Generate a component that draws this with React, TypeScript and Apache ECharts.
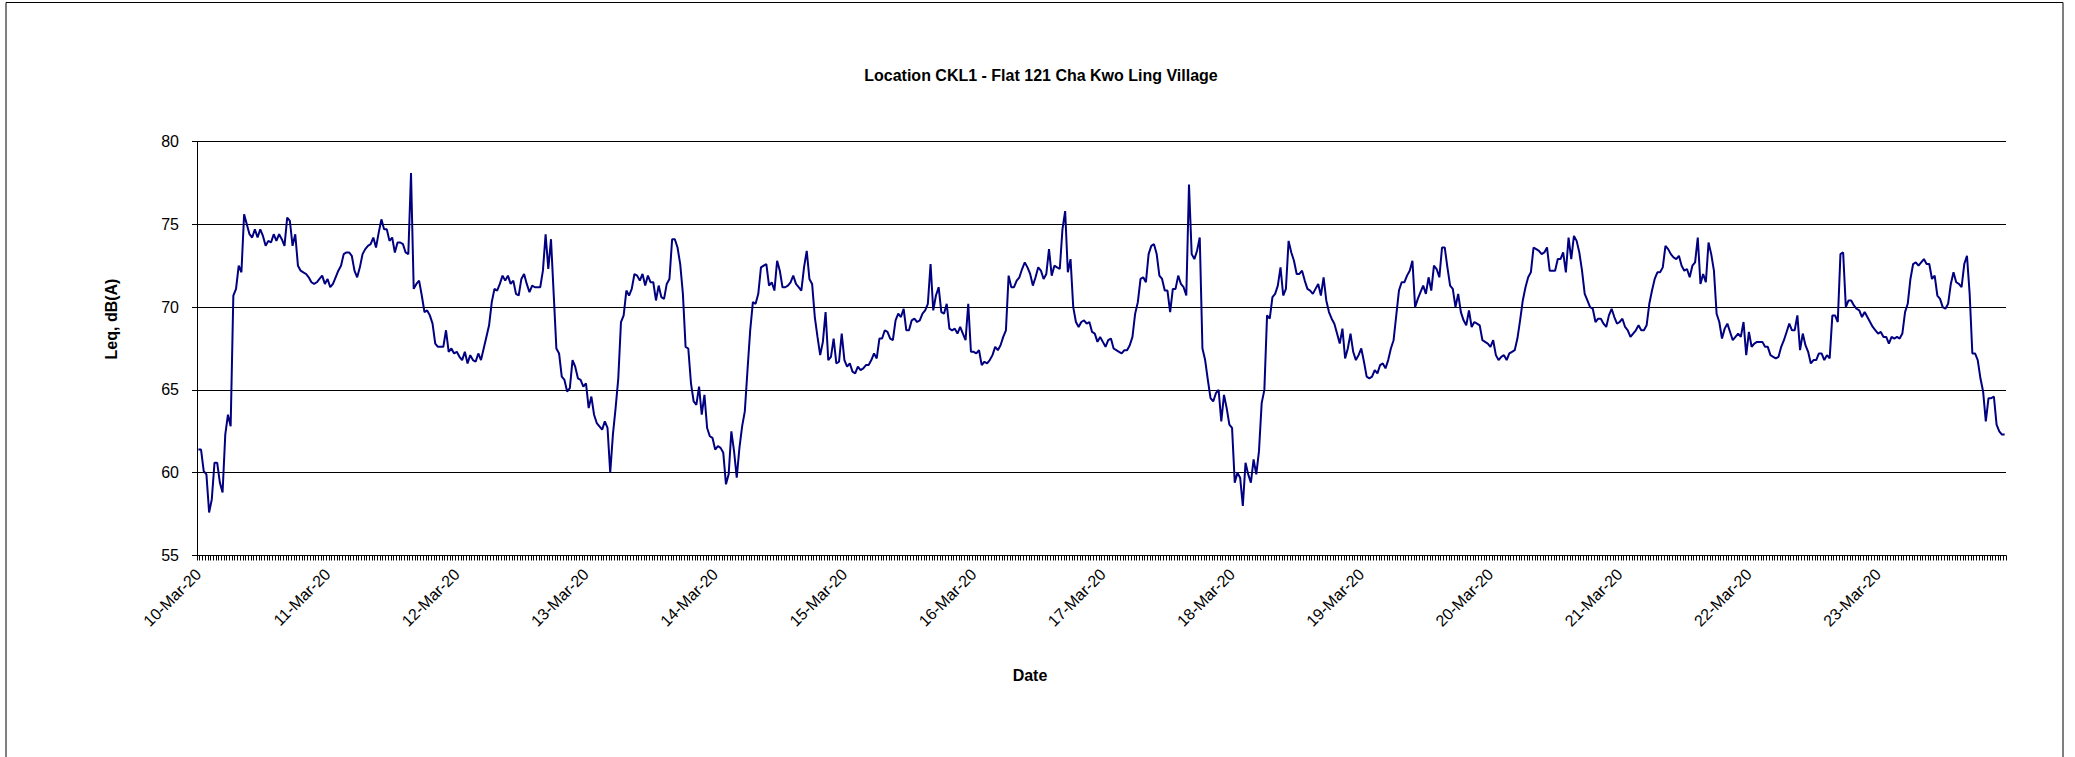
import React, { useEffect, useRef } from "react";
import * as echarts from "echarts";

// Day labels shown on the category axis (one label every 48 half-hour readings)
const dayLabels = [
  "10-Mar-20", "11-Mar-20", "12-Mar-20", "13-Mar-20", "14-Mar-20", "15-Mar-20", "16-Mar-20",
  "17-Mar-20", "18-Mar-20", "19-Mar-20", "20-Mar-20", "21-Mar-20", "22-Mar-20", "23-Mar-20",
];

// Half-hourly Leq, dB(A) readings, one array per day (48 values each)
const mar10 = [
  61.4, 61.4, 60.1, 59.9, 57.6, 58.4, 60.6, 60.6, 59.4, 58.8, 62.3, 63.5,
  62.8, 70.7, 71.1, 72.5, 72.1, 75.6, 75.0, 74.4, 74.2, 74.7, 74.2, 74.7,
  74.3, 73.7, 74.0, 73.9, 74.4, 74.0, 74.4, 74.1, 73.7, 75.4, 75.2, 73.7,
  74.4, 72.5, 72.2, 72.1, 72.0, 71.8, 71.5, 71.4, 71.5, 71.7, 71.9, 71.4,
];
const mar11 = [
  71.7, 71.2, 71.4, 71.8, 72.2, 72.5, 73.2, 73.3, 73.3, 73.1, 72.2, 71.8,
  72.4, 73.2, 73.5, 73.7, 73.8, 74.2, 73.6, 74.5, 75.3, 74.7, 74.7, 74.0,
  74.2, 73.3, 73.9, 73.9, 73.8, 73.3, 73.2, 78.1, 71.1, 71.4, 71.6, 70.7,
  69.7, 69.8, 69.5, 69.0, 67.8, 67.6, 67.6, 67.6, 68.6, 67.3, 67.5, 67.2,
];
const mar12 = [
  67.3, 67.0, 66.8, 67.3, 66.6, 67.1, 66.8, 66.7, 67.2, 66.8, 67.5, 68.2,
  68.9, 70.3, 71.1, 71.0, 71.4, 71.9, 71.6, 71.9, 71.4, 71.6, 70.8, 70.7,
  71.7, 72.0, 71.4, 70.9, 71.3, 71.2, 71.2, 71.2, 72.2, 74.4, 72.3, 74.1,
  70.8, 67.5, 67.2, 65.8, 65.6, 64.9, 65.1, 66.8, 66.4, 65.7, 65.6, 65.2,
];
const mar13 = [
  65.4, 63.9, 64.6, 63.5, 63.0, 62.8, 62.6, 63.1, 62.7, 60.0, 62.3, 63.9,
  65.7, 69.1, 69.5, 71.0, 70.7, 71.1, 72.0, 71.9, 71.6, 72.0, 71.3, 71.9,
  71.5, 71.5, 70.4, 71.3, 70.6, 70.5, 71.4, 71.7, 74.1, 74.1, 73.6, 72.6,
  70.8, 67.6, 67.5, 65.4, 64.3, 64.1, 65.2, 63.5, 64.7, 62.7, 62.2, 62.1,
];
const mar14 = [
  61.4, 61.6, 61.5, 61.2, 59.3, 59.9, 62.5, 61.3, 59.7, 61.5, 62.8, 63.7,
  66.2, 68.6, 70.3, 70.2, 70.8, 72.4, 72.5, 72.6, 71.3, 71.5, 71.0, 72.8,
  72.2, 71.2, 71.2, 71.3, 71.5, 71.9, 71.4, 71.2, 71.0, 72.4, 73.4, 71.7,
  71.4, 69.4, 68.2, 67.1, 67.9, 69.7, 66.8, 67.0, 68.1, 66.6, 66.7, 68.4,
];
const mar15 = [
  66.8, 66.4, 66.6, 66.1, 66.0, 66.4, 66.2, 66.3, 66.5, 66.5, 66.8, 67.2,
  66.9, 68.1, 68.1, 68.6, 68.5, 68.1, 68.0, 69.2, 69.6, 69.4, 69.9, 68.6,
  68.6, 69.2, 69.3, 69.1, 69.2, 69.6, 69.8, 70.2, 72.6, 69.8, 70.7, 71.2,
  69.7, 69.6, 70.2, 68.7, 68.6, 68.7, 68.4, 68.8, 68.4, 68.0, 70.2, 67.3,
];
const mar16 = [
  67.3, 67.2, 67.4, 66.5, 66.7, 66.6, 66.8, 67.1, 67.6, 67.4, 67.7, 68.2,
  68.6, 71.9, 71.2, 71.2, 71.6, 71.8, 72.3, 72.7, 72.4, 72.0, 71.3, 71.8,
  72.4, 72.2, 71.7, 72.0, 73.5, 71.9, 72.5, 72.4, 72.3, 74.7, 75.8, 72.1,
  72.9, 70.0, 69.1, 68.8, 69.1, 69.2, 69.0, 69.1, 68.5, 68.4, 67.9, 68.2,
];
const mar17 = [
  67.9, 67.6, 68.0, 68.1, 67.5, 67.4, 67.3, 67.2, 67.4, 67.4, 67.7, 68.2,
  69.6, 70.3, 71.7, 71.8, 71.5, 73.2, 73.7, 73.8, 73.2, 71.9, 71.7, 71.0,
  71.0, 69.7, 71.1, 71.1, 71.9, 71.4, 71.2, 70.7, 77.4, 73.2, 72.9, 73.4,
  74.2, 67.5, 66.8, 65.6, 64.5, 64.3, 64.8, 65.0, 63.1, 64.7, 63.9, 62.9,
];
const mar18 = [
  62.7, 59.4, 60.0, 59.7, 58.0, 60.6, 59.9, 59.4, 60.8, 59.9, 61.3, 64.2,
  65.0, 69.5, 69.3, 70.6, 70.8, 71.3, 72.4, 70.7, 71.1, 74.0, 73.3, 72.8,
  72.0, 72.0, 72.2, 71.6, 71.1, 71.0, 70.8, 71.1, 71.4, 70.7, 71.8, 70.4,
  69.7, 69.3, 69.0, 68.4, 67.8, 68.7, 66.9, 67.5, 68.4, 67.3, 66.8, 67.1,
];
const mar19 = [
  67.5, 66.7, 65.8, 65.7, 65.8, 66.2, 66.0, 66.5, 66.6, 66.3, 66.8, 67.5,
  68.0, 69.5, 71.0, 71.5, 71.5, 71.9, 72.2, 72.8, 70.0, 70.5, 70.9, 71.3,
  70.8, 71.8, 71.0, 72.5, 72.3, 71.8, 73.6, 73.6, 72.4, 71.3, 71.1, 70.0,
  70.8, 69.7, 69.2, 68.9, 69.8, 68.8, 69.1, 69.0, 68.9, 68.0, 67.9, 67.8,
];
const mar20 = [
  67.6, 68.0, 67.1, 66.8, 67.0, 67.1, 66.8, 67.2, 67.3, 67.4, 68.1, 69.2,
  70.4, 71.2, 71.8, 72.1, 73.6, 73.5, 73.4, 73.2, 73.3, 73.6, 72.2, 72.2,
  72.2, 72.9, 72.9, 73.3, 72.1, 74.2, 72.9, 74.3, 74.0, 73.3, 72.2, 70.8,
  70.4, 70.0, 69.9, 69.1, 69.3, 69.3, 69.0, 68.8, 69.5, 69.9, 69.4, 69.0,
];
const mar21 = [
  69.1, 69.3, 68.8, 68.6, 68.2, 68.4, 68.6, 68.9, 68.6, 68.6, 68.9, 70.2,
  71.0, 71.7, 72.1, 72.1, 72.4, 73.7, 73.5, 73.2, 73.0, 72.9, 73.1, 72.5,
  72.2, 72.3, 71.8, 72.5, 72.7, 74.2, 71.4, 72.0, 71.5, 73.9, 73.2, 72.2,
  69.6, 69.1, 68.1, 68.7, 69.0, 68.5, 68.0, 68.2, 68.4, 68.2, 69.1, 67.1,
];
const mar22 = [
  68.5, 67.6, 67.8, 67.9, 67.9, 67.9, 67.6, 67.6, 67.1, 67.0, 66.9, 67.0,
  67.6, 68.0, 68.5, 69.0, 68.6, 68.6, 69.5, 67.4, 68.4, 67.7, 67.3, 66.6,
  66.8, 66.8, 67.2, 67.2, 66.8, 67.1, 66.9, 69.5, 69.5, 69.1, 73.2, 73.3,
  70.0, 70.4, 70.4, 70.1, 69.9, 69.8, 69.4, 69.7, 69.4, 69.1, 68.8, 68.6,
];
const mar23 = [
  68.4, 68.5, 68.2, 68.2, 67.8, 68.2, 68.1, 68.2, 68.1, 68.4, 69.7, 70.2,
  71.7, 72.6, 72.7, 72.5, 72.7, 72.9, 72.6, 72.6, 71.7, 71.9, 70.7, 70.5,
  70.0, 69.9, 70.2, 71.4, 72.1, 71.5, 71.4, 71.2, 72.6, 73.1, 70.8, 67.2,
  67.2, 66.8, 65.7, 64.9, 63.1, 64.5, 64.5, 64.6, 62.9, 62.5, 62.3, 62.3,
];

const dailyValues = [mar10, mar11, mar12, mar13, mar14, mar15, mar16, mar17, mar18, mar19, mar20, mar21, mar22, mar23];

const yTicks = [55, 60, 65, 70, 75, 80];

const TITLE = "Location CKL1 - Flat 121 Cha Kwo Ling Village";
const Y_NAME = "Leq, dB(A)";
const X_NAME = "Date";

const FONT = "'Liberation Sans', Arial, Helvetica, sans-serif";

function buildCategories(): string[] {
  const cats: string[] = [];
  dayLabels.forEach((d) => {
    for (let h = 0; h < 48; h++) {
      const hh = String(Math.floor(h / 2)).padStart(2, "0");
      const mm = h % 2 === 0 ? "00" : "30";
      cats.push(`${d} ${hh}:${mm}`);
    }
  });
  return cats;
}

export default function App() {
  const ref = useRef<HTMLDivElement>(null);

  useEffect(() => {
    if (!ref.current) return;
    const chart = echarts.init(ref.current, undefined, { renderer: "svg" });
    const categories = buildCategories();
    const values: number[] = ([] as number[]).concat(...dailyValues);

    chart.setOption({
      animation: false,
      backgroundColor: "#ffffff",
      grid: { left: 197, right: 69, top: 141.5, bottom: 201.5, containLabel: false },
      graphic: [
        {
          type: "rect",
          shape: { x: 6, y: 2.5, width: 2057, height: 800 },
          style: { fill: "none", stroke: "#000", lineWidth: 1 },
          silent: true,
        },
        {
          type: "text",
          x: 1041,
          y: 75,
          style: {
            text: TITLE,
            font: `bold 16px ${FONT}`,
            fill: "#000",
            align: "center",
            verticalAlign: "middle",
            textAlign: "center",
            textVerticalAlign: "middle",
          },
        },
        {
          type: "text",
          x: 111,
          y: 319,
          rotation: Math.PI / 2,
          style: {
            text: Y_NAME,
            font: `bold 16px ${FONT}`,
            fill: "#000",
            align: "center",
            verticalAlign: "middle",
            textAlign: "center",
            textVerticalAlign: "middle",
          },
        },
        {
          type: "text",
          x: 1030,
          y: 675,
          style: {
            text: X_NAME,
            font: `bold 16px ${FONT}`,
            fill: "#000",
            align: "center",
            verticalAlign: "middle",
            textAlign: "center",
            textVerticalAlign: "middle",
          },
        },
      ],
      xAxis: {
        type: "category",
        data: categories,
        boundaryGap: true,
        axisLine: { show: true, onZero: false, lineStyle: { color: "#000", width: 1 } },
        axisTick: { show: true, interval: 0, length: 5, lineStyle: { color: "#000", width: 1 } },
        axisLabel: {
          interval: (index: number) => index % 48 === 0,
          rotate: 45,
          margin: 16,
          color: "#000",
          fontSize: 16,
          fontFamily: FONT,
          formatter: (v: string) => v.split(" ")[0],
        },
        splitLine: { show: false },
      },
      yAxis: {
        type: "value",
        min: yTicks[0],
        max: yTicks[yTicks.length - 1],
        interval: 5,
        axisLine: { show: true, lineStyle: { color: "#000", width: 1 } },
        axisTick: { show: true, length: 5, lineStyle: { color: "#000", width: 1 } },
        axisLabel: { color: "#000", fontSize: 16, fontFamily: FONT, margin: 18 },
        splitLine: { show: true, lineStyle: { color: "#000", width: 1 } },
      },
      series: [
        {
          type: "line",
          data: values,
          showSymbol: false,
          symbol: "none",
          lineStyle: { color: "#000080", width: 2 },
          itemStyle: { color: "#000080" },
          z: 3,
        },
      ],
    });

    return () => chart.dispose();
  }, []);

  return (
    <div
      ref={ref}
      style={{ position: "absolute", left: 0, top: 0, width: 2075, height: 757, background: "#fff" }}
    />
  );
}
